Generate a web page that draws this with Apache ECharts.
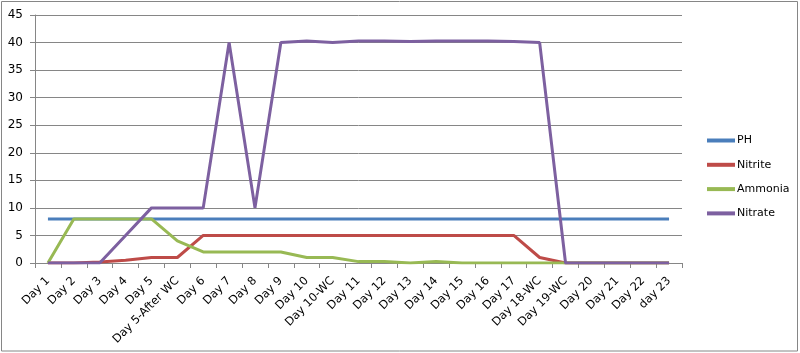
<!DOCTYPE html>
<html><head><meta charset="utf-8">
<script src="https://cdn.jsdelivr.net/npm/echarts@6/dist/echarts.min.js"></script>
<style>html,body{margin:0;padding:0;background:#fff}#c{width:800px;height:353px}</style>
</head><body><div id="c"></div>
<script>
var categories = ["Day 1","Day 2","Day 3","Day 4","Day 5","Day 5-After WC","Day 6","Day 7","Day 8","Day 9","Day 10","Day 10-WC","Day 11","Day 12","Day 13","Day 14","Day 15","Day 16","Day 17","Day 18-WC","Day 19-WC","Day 20","Day 21","Day 22","day 23"];
var ph      = [8,8,8,8,8,8,8,8,8,8,8,8,8,8,8,8,8,8,8,8,8,8,8,8,8];
var nitrite = [0,0,0.2,0.5,1,1,5,5,5,5,5,5,5,5,5,5,5,5,5,1,0,0,0,0,0];
var ammonia = [0,8,8,8,8,4,2,2,2,2,1,1,0.25,0.25,0,0.25,0,0,0,0,0,0,0,0,0];
var nitrate = [0,0,0,5,10,10,10,40,10,40,40.3,40,40.3,40.3,40.2,40.3,40.3,40.3,40.2,40,0,0,0,0,0];
var yTicks = [0,5,10,15,20,25,30,35,40,45];

var font = "DejaVu Sans";
var chart = echarts.init(document.getElementById('c'), null, {renderer:'canvas'});
function s(name, data, color){
  return {name:name, type:'line', data:data, symbol:'none', smooth:false,
    lineStyle:{color:color, width:3}, itemStyle:{color:color}, z:2};
}
chart.setOption({
  animation:false,
  backgroundColor:'#fff',
  graphic:[{type:'rect', shape:{x:1.5,y:1.5,width:796,height:349.5}, style:{fill:null, stroke:'#868686', lineWidth:1}, z:-1}],
  grid:{left:35, top:15, right:118, bottom:90, containLabel:false},
  legend:{orient:'vertical', left:702, top:130, itemWidth:28, itemHeight:4, itemGap:13.3, icon:'rect',
    textStyle:{fontFamily:font, fontSize:11, color:'#000', padding:[0,0,0,-3]},
    data:['PH','Nitrite','Ammonia','Nitrate']},
  xAxis:{type:'category', data:categories, boundaryGap:true,
    axisLine:{lineStyle:{color:'#868686', width:1}},
    axisTick:{show:true, alignWithLabel:false, length:5, lineStyle:{color:'#868686'}},
    axisLabel:{rotate:45, interval:0, fontFamily:font, fontSize:11.5, color:'#000', margin:16},
    splitLine:{show:false}},
  yAxis:{type:'value', min:0, max:45, interval:5,
    axisLine:{show:true, lineStyle:{color:'#868686'}},
    axisTick:{show:true, length:5, lineStyle:{color:'#868686'}},
    axisLabel:{fontFamily:font, fontSize:12, color:'#000', margin:12,
      formatter:function(v){ return yTicks.indexOf(v) >= 0 ? String(v) : ''; }},
    splitLine:{show:true, lineStyle:{color:'#868686', width:1}}},
  series:[s('PH', ph, '#4A7EBB'), s('Nitrite', nitrite, '#BE4B48'), s('Ammonia', ammonia, '#98B954'), s('Nitrate', nitrate, '#7D60A0')]
});
</script></body></html>
